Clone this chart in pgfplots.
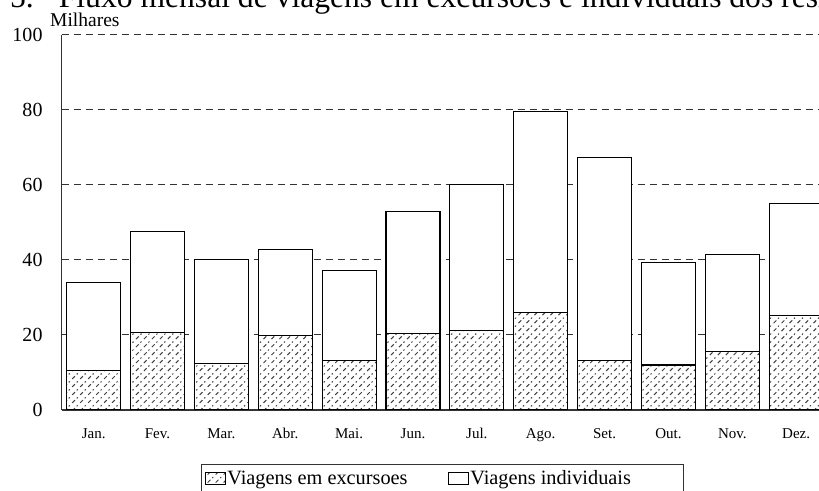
\documentclass[border=0pt]{standalone}
\usepackage{fontspec}
\setmainfont{Liberation Serif}
\usepackage{pgfplots}
\usepackage{pgfplotstable}
\pgfplotsset{compat=1.18}
\usetikzlibrary{patterns}

% dotted diagonal hatch of the excursion bars
\pgfdeclarepatternformonly{dotdiag}{\pgfqpoint{-1pt}{-1pt}}{\pgfqpoint{9pt}{9pt}}{\pgfqpoint{8pt}{8pt}}{%
  \pgfsetlinewidth{1pt}%
  \pgfpathmoveto{\pgfqpoint{0.5pt}{0.5pt}}\pgfpathlineto{\pgfqpoint{3.2pt}{3.2pt}}%
  \pgfpathmoveto{\pgfqpoint{5pt}{5pt}}\pgfpathlineto{\pgfqpoint{6pt}{6pt}}%
  \pgfusepath{stroke}}

% milhares de viagens por mes
\pgfplotstableread{
m  exc   ind
0  10.5  23.5
1  20.7  26.8
2  12.4  27.8
3  19.8  23.0
4  13.2  24.1
5  20.4  32.6
6  21.3  38.9
7  26.0  53.5
8  13.2  54.2
9  12.0  27.4
10 15.7  25.8
11 25.3  29.8
}\viagens

\begin{document}
\begin{tikzpicture}
\useasboundingbox (0,0) rectangle (819bp,491bp);
\clip (0,0) rectangle (819bp,491bp);
\begin{axis}[
  at={(61.7bp,81bp)}, anchor=south west,
  scale only axis, width=766.4bp, height=375bp,
  ybar stacked, bar width=0.845,
  xmin=-0.5, xmax=11.5, ymin=0, ymax=100,
  xtick={0,...,11},
  xticklabels={Jan.,Fev.,Mar.,Abr.,Mai.,Jun.,Jul.,Ago.,Set.,Out.,Nov.,Dez.},
  ytick={0,20,...,100},
  axis x line*=bottom, axis y line*=left,
  axis line style={line width=1.2bp, black!80},
  major tick length=0pt,
  ymajorgrids,
  major grid style={dash pattern=on 7.5bp off 4.5bp, line width=1bp, black!80},
  /pgf/number format/assume math mode=true,
  yticklabel style={font=\fontsize{20bp}{24bp}\selectfont, inner sep=0pt, xshift=-19bp},
  xticklabel style={font=\fontsize{15bp}{18bp}\selectfont, anchor=base, inner sep=0pt, yshift=-29bp},
  title={5.\hspace{25bp}Fluxo mensal de viagens em excursoes e individuais dos residentes},
  title style={at={(axis description cs:0,1)}, anchor=base west, inner sep=0pt,
    xshift=-51.7bp, yshift=21.5bp, font=\fontsize{31.6bp}{36bp}\selectfont},
  ylabel={Milhares},
  ylabel style={rotate=-90, at={(axis description cs:0,1)}, anchor=base west, inner sep=0pt,
    xshift=-11.7bp, yshift=8bp, font=\fontsize{19.5bp}{24bp}\selectfont},
  legend style={at={(axis description cs:0.1818,-0.144)}, anchor=north west,
    legend columns=2, draw=black!80, line width=1bp,
    font=\fontsize{20.3bp}{24bp}\selectfont, inner xsep=3bp, inner ysep=4bp,
    /tikz/every even column/.append style={column sep=38bp}},
  legend cell align=left,
  legend image code/.code={\draw[#1, line width=0.8bp] (0bp,-6bp) rectangle (20bp,6bp);},
]
\addplot[draw=black, line width=1.1bp, fill=white,
  postaction={pattern=dotdiag, pattern color=black!75}] table[x=m, y=exc] {\viagens};
\addlegendentry{Viagens em excursoes}
\addplot[draw=black, line width=1.1bp, fill=white] table[x=m, y=ind] {\viagens};
\addlegendentry{Viagens individuais\hspace{48bp}\mbox{}}
\end{axis}
\end{tikzpicture}
\end{document}
